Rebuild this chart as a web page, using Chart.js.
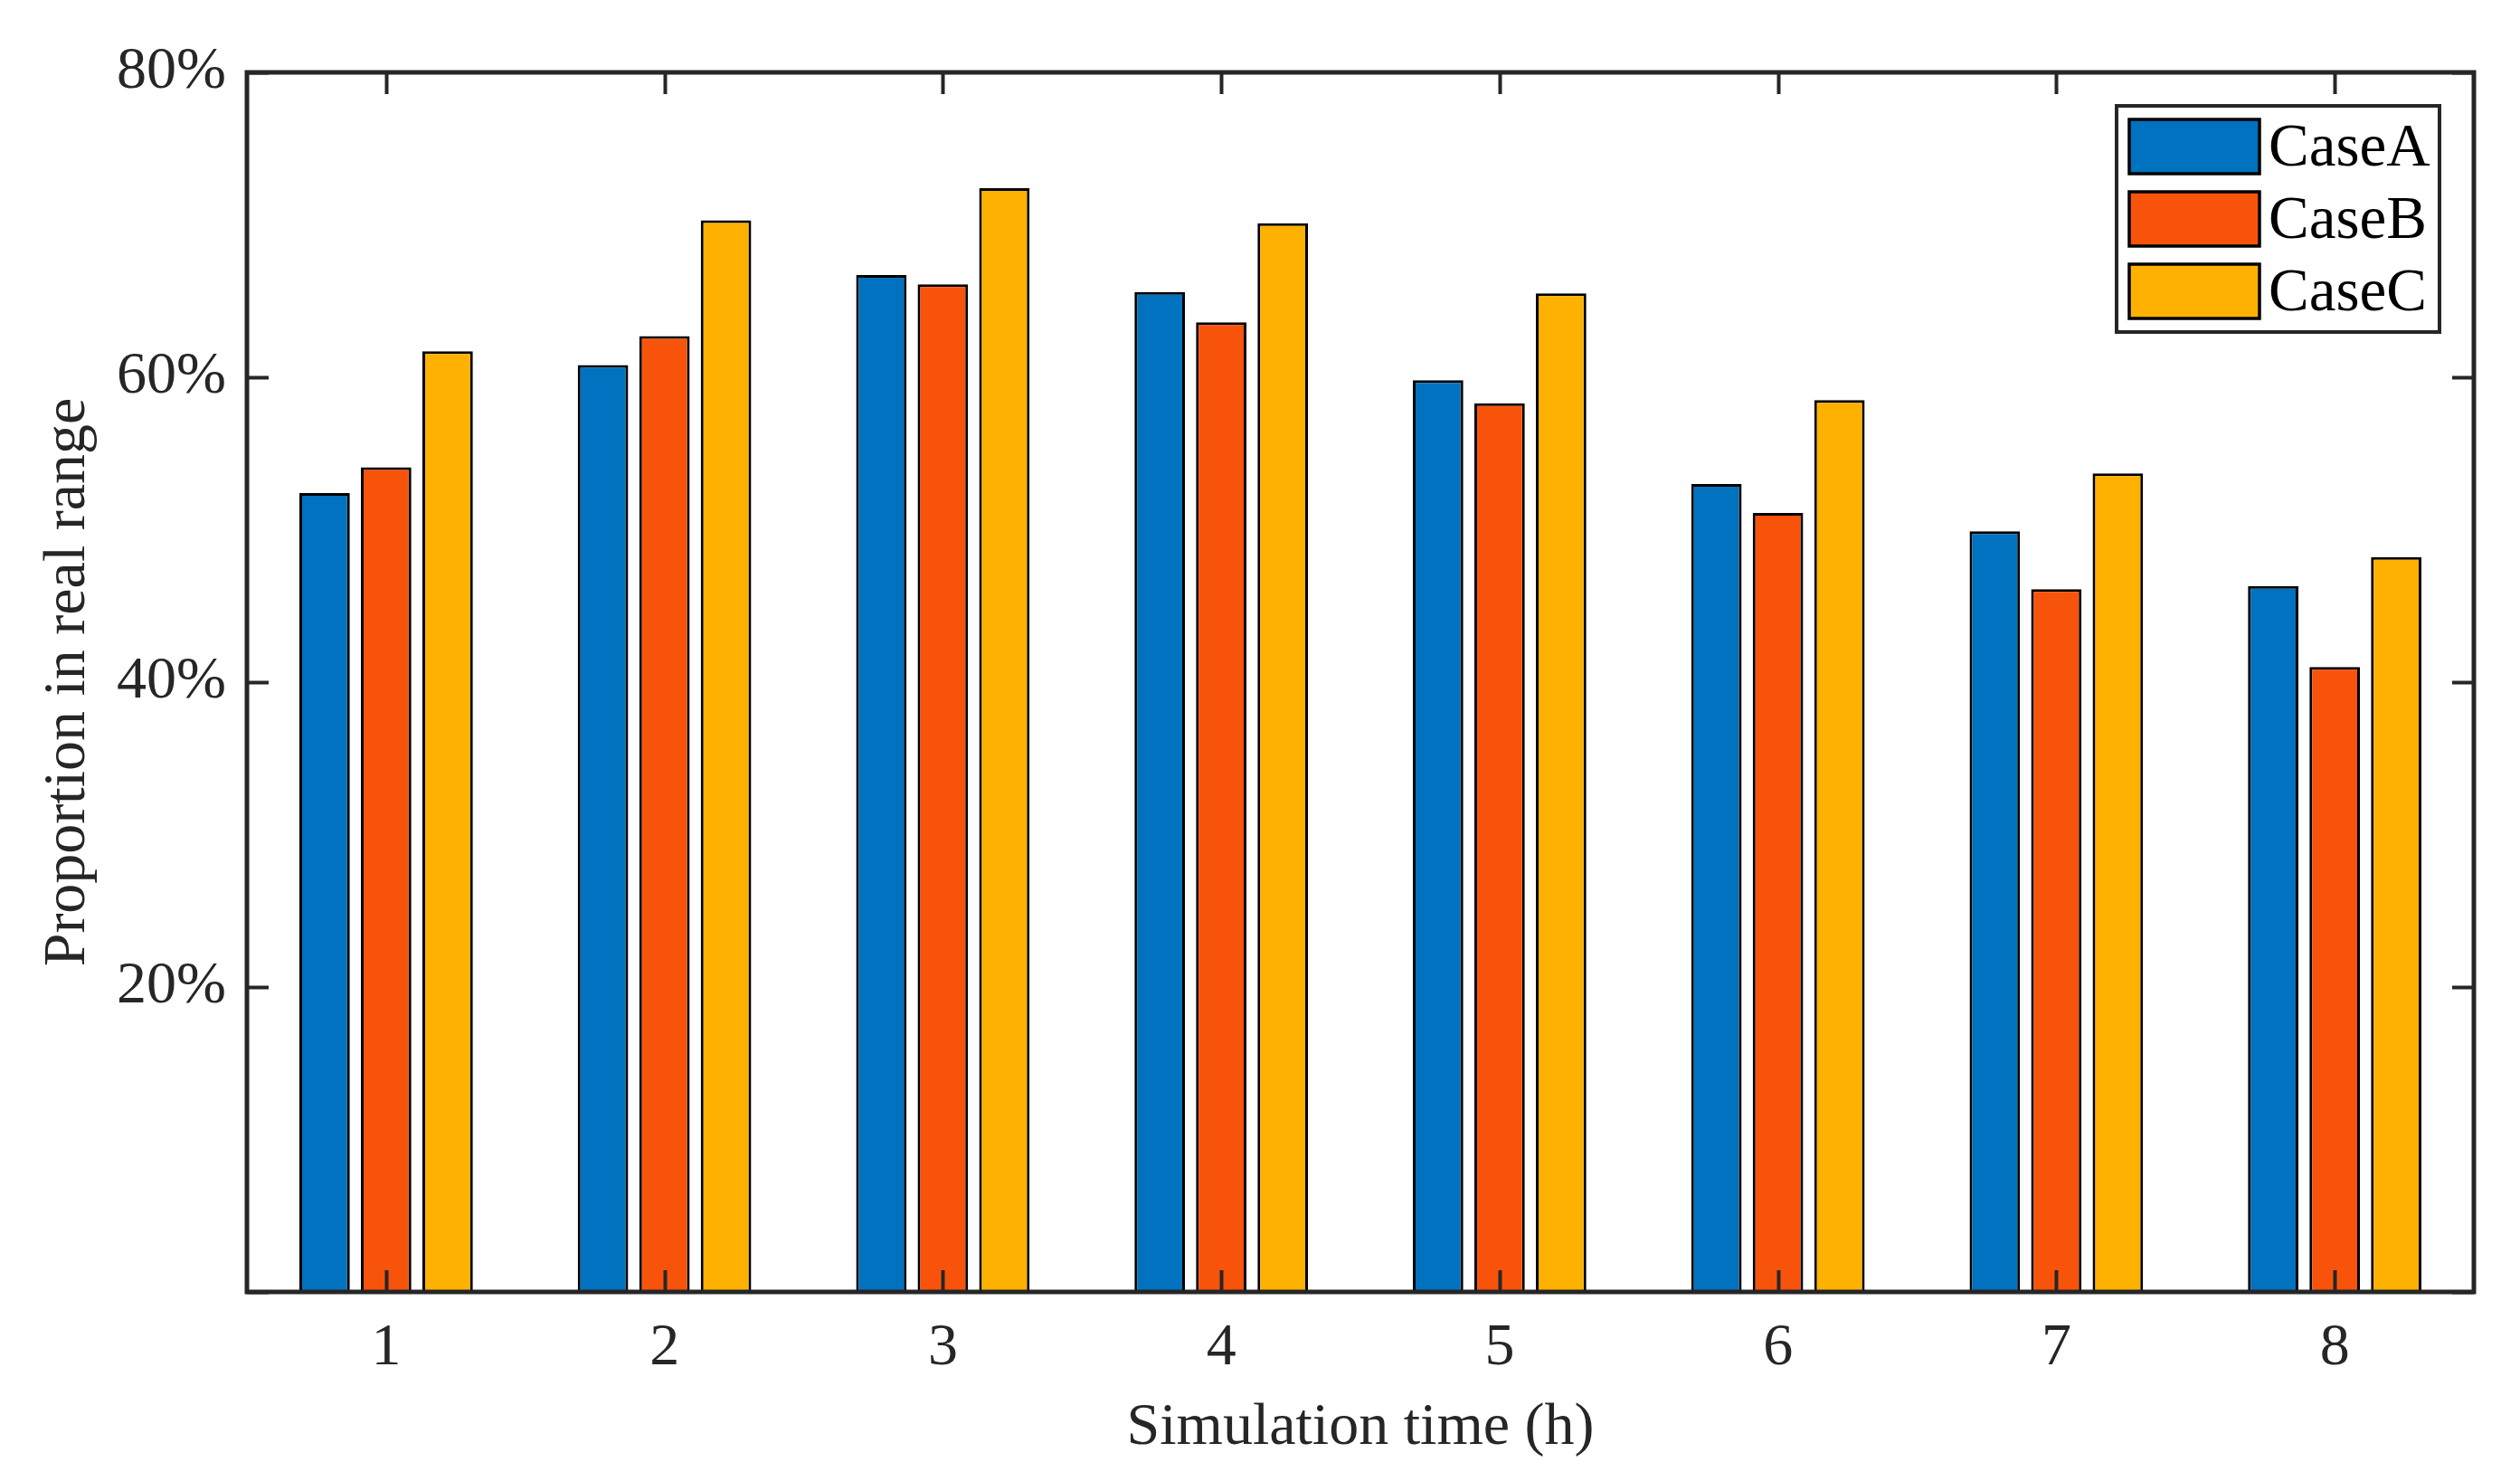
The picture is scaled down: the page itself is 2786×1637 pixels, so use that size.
<!DOCTYPE html>
<html>
<head>
<meta charset="utf-8">
<script src="https://cdn.jsdelivr.net/npm/chart.js@4.4.1/dist/chart.umd.min.js"></script>
<style>
html,body{margin:0;padding:0;background:#fff;}
canvas{display:block;}
</style>
</head>
<body>
<canvas id="c" width="2786" height="1637"></canvas>
<script>
const categories = ['1', '2', '3', '4', '5', '6', '7', '8'];
const seriesNames = ['CaseA', 'CaseB', 'CaseC'];
const caseA = [52.4, 60.8, 66.7, 65.6, 59.8, 53.0, 49.9, 46.3];
const caseB = [54.1, 62.7, 66.1, 63.6, 58.3, 51.1, 46.1, 41.0];
const caseC = [61.7, 70.3, 72.4, 70.1, 65.5, 58.5, 53.7, 48.2];
const yTickValues = [0, 20, 40, 60, 80];
const colors = ['#0072BF', '#F8530B', '#FFB100'];

const FONT = 'Liberation Serif, Times New Roman, serif';
const AXIS = '#262626';

const framePlugin = {
  id: 'frame',
  afterDatasetsDraw(chart) {
    const {ctx, chartArea: a, scales: {x, y}} = chart;
    ctx.save();
    ctx.strokeStyle = AXIS;
    ctx.lineWidth = 4;
    const tl = 24;
    ctx.beginPath();
    yTickValues.forEach(v => {
      const py = Math.round(y.getPixelForValue(v)) + 0.5;
      ctx.moveTo(a.left, py); ctx.lineTo(a.left + tl, py);
      ctx.moveTo(a.right, py); ctx.lineTo(a.right - tl, py);
    });
    categories.forEach((c, i) => {
      const px = Math.round(x.getPixelForValue(i)) + 0.5;
      ctx.moveTo(px, a.bottom); ctx.lineTo(px, a.bottom - tl);
      ctx.moveTo(px, a.top); ctx.lineTo(px, a.top + tl);
    });
    ctx.stroke();
    ctx.lineWidth = 5;
    ctx.strokeRect(a.left, a.top, a.right - a.left, a.bottom - a.top);
    ctx.restore();
  },
  afterDraw(chart) {
    // legend box inside the plot, top-right
    const {ctx, chartArea: a} = chart;
    const ds = chart.data.datasets;
    const boxW = 357, rowH = 80, boxH = 250;
    const bx = a.right - 38 - boxW, by = 117;
    ctx.save();
    ctx.fillStyle = '#fff';
    ctx.fillRect(bx, by, boxW, boxH);
    ctx.strokeStyle = AXIS;
    ctx.lineWidth = 4;
    ctx.strokeRect(bx, by, boxW, boxH);
    ctx.font = '67px ' + FONT;
    ctx.textBaseline = 'middle';
    ctx.textAlign = 'left';
    ds.forEach((d, i) => {
      const cy = by + 45 + i * rowH;
      const sx = bx + 14, sw = 144, sh = 60;
      ctx.fillStyle = d.backgroundColor;
      ctx.fillRect(sx, cy - sh / 2, sw, sh);
      ctx.strokeStyle = '#000';
      ctx.lineWidth = 3.5;
      ctx.strokeRect(sx, cy - sh / 2, sw, sh);
      ctx.fillStyle = '#000';
      ctx.fillText(d.label, sx + sw + 10, cy + 3);
    });
    ctx.restore();
  }
};

new Chart(document.getElementById('c'), {
  type: 'bar',
  data: {
    labels: categories,
    datasets: [caseA, caseB, caseC].map((vals, i) => ({
      label: seriesNames[i],
      data: vals,
      backgroundColor: colors[i],
      borderColor: '#000',
      borderWidth: 3,
      categoryPercentage: 0.663,
      barPercentage: 0.82
    }))
  },
  options: {
    responsive: false,
    devicePixelRatio: 1,
    animation: false,
    layout: {padding: {left: 0, right: 51, top: 80, bottom: 0}},
    plugins: {legend: {display: false}, tooltip: {enabled: false}},
    scales: {
      x: {
        offset: true,
        grid: {display: false, drawTicks: false},
        border: {display: false},
        ticks: {color: AXIS, padding: 23, font: {family: FONT, size: 66}},
        title: {display: true, text: 'Simulation time (h)', color: AXIS,
                font: {family: FONT, size: 66}, padding: {top: 0, bottom: 19}},
        afterFit(s) { s.height = 209; }
      },
      y: {
        min: 0, max: 80,
        afterBuildTicks(s) { s.ticks = yTickValues.map(v => ({value: v})); },
        grid: {display: false, drawTicks: false},
        border: {display: false},
        ticks: {color: AXIS, padding: 23, font: {family: FONT, size: 66},
                callback: v => v === 0 ? '' : v + '%'},
        title: {display: true, text: 'Proportion in real range', color: AXIS,
                font: {family: FONT, size: 66}, padding: {top: 36, bottom: 0}},
        afterFit(s) { s.width = 273; }
      }
    }
  },
  plugins: [framePlugin]
});
</script>
</body>
</html>
